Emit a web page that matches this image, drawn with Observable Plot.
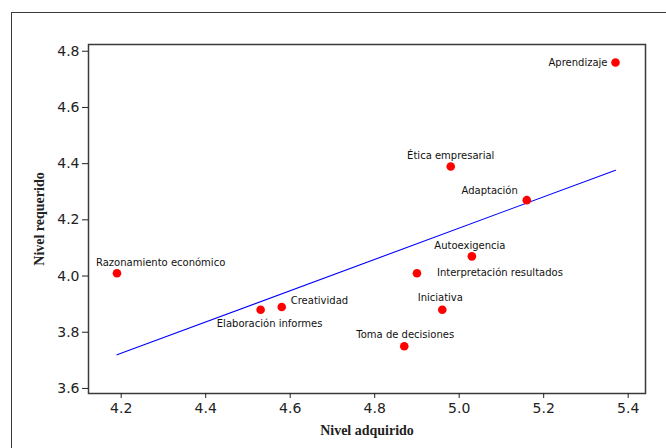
<!DOCTYPE html>
<html><head><meta charset="utf-8">
<script src="https://cdn.jsdelivr.net/npm/d3@7"></script>
<script src="https://cdn.jsdelivr.net/npm/@observablehq/plot@0.6"></script>
<style>
body{margin:0;background:#fff;}
#wrap{position:relative;width:666px;height:448px;overflow:hidden;background:#fff;}
#border{position:absolute;left:11px;top:12px;width:720px;height:520px;border:1.5px solid #3a3a3a;box-sizing:border-box;}
#chart{position:absolute;left:0;top:0;}
g[aria-label="x-axis label"] text, g[aria-label="y-axis label"] text{font-family:"Liberation Serif","DejaVu Serif",serif;font-weight:bold;font-size:14px;}
</style></head><body><div id="wrap"><div id="border"></div><div id="chart"></div></div>
<script>
const names = ["Aprendizaje","Ética empresarial","Adaptación","Autoexigencia","Interpretación resultados","Iniciativa","Toma de decisiones","Creatividad","Elaboración informes","Razonamiento económico"];
const adquirido = [5.37, 4.98, 5.16, 5.03, 4.90, 4.96, 4.87, 4.58, 4.53, 4.19];
const requerido = [4.76, 4.39, 4.27, 4.07, 4.01, 3.88, 3.75, 3.89, 3.88, 4.01];
const xTicks = [4.2, 4.4, 4.6, 4.8, 5.0, 5.2, 5.4];
const yTicks = [3.6, 3.8, 4.0, 4.2, 4.4, 4.6, 4.8];
const xTitle = "Nivel adquirido";
const yTitle = "Nivel requerido";

const data = names.map((n, i) => ({name: n, x: adquirido[i], y: requerido[i]}));

// label placement (presentation only)
const placement = {
  "Aprendizaje": {dx: -8, dy: 0, anchor: "end"},
  "Ética empresarial": {dx: 0, dy: -11, anchor: "middle"},
  "Adaptación": {dx: -9, dy: -9, anchor: "end"},
  "Autoexigencia": {dx: -2, dy: -11, anchor: "middle"},
  "Interpretación resultados": {dx: 20, dy: 0, anchor: "start"},
  "Iniciativa": {dx: -2, dy: -12, anchor: "middle"},
  "Toma de decisiones": {dx: 1, dy: -11, anchor: "middle"},
  "Creatividad": {dx: 9, dy: -6, anchor: "start"},
  "Elaboración informes": {dx: 9, dy: 14, anchor: "middle"},
  "Razonamiento económico": {dx: -21, dy: -10, anchor: "start"}
};

const labelMarks = data.map(d => {
  const p = placement[d.name];
  return Plot.text([d], {x: "x", y: "y", text: "name", dx: p.dx, dy: p.dy, textAnchor: p.anchor,
    fontSize: 10, fill: "#111", fontFamily: "DejaVu Sans"});
});

const chart = Plot.plot({
  width: 666,
  height: 448,
  marginLeft: 88,
  marginRight: 21,
  marginTop: 44,
  marginBottom: 55,
  style: {fontFamily: "DejaVu Sans", fontSize: "14px", color: "#222", background: "transparent"},
  x: {domain: [4.1226, 5.441]},
  y: {domain: [3.582, 4.824]},
  marks: [
    Plot.frame({stroke: "#3a3a3a", strokeWidth: 1.5}),
    Plot.axisX({ticks: xTicks, tickFormat: d3.format(".1f"), tickSize: 5, tickPadding: 5,
      label: xTitle, labelAnchor: "center", labelOffset: 41, labelArrow: "none"}),
    Plot.axisY({ticks: yTicks, tickFormat: d3.format(".1f"), tickSize: 6, tickPadding: 3,
      label: yTitle, labelAnchor: "center", labelOffset: 54, labelArrow: "none"}),
    Plot.linearRegressionY(data, {x: "x", y: "y", stroke: "#0000ff", strokeWidth: 1.1, ci: 0}),
    Plot.dot(data, {x: "x", y: "y", r: 4.3, fill: "#ff0000"}),
    ...labelMarks
  ]
});
document.getElementById("chart").appendChild(chart);
</script>
</body></html>
